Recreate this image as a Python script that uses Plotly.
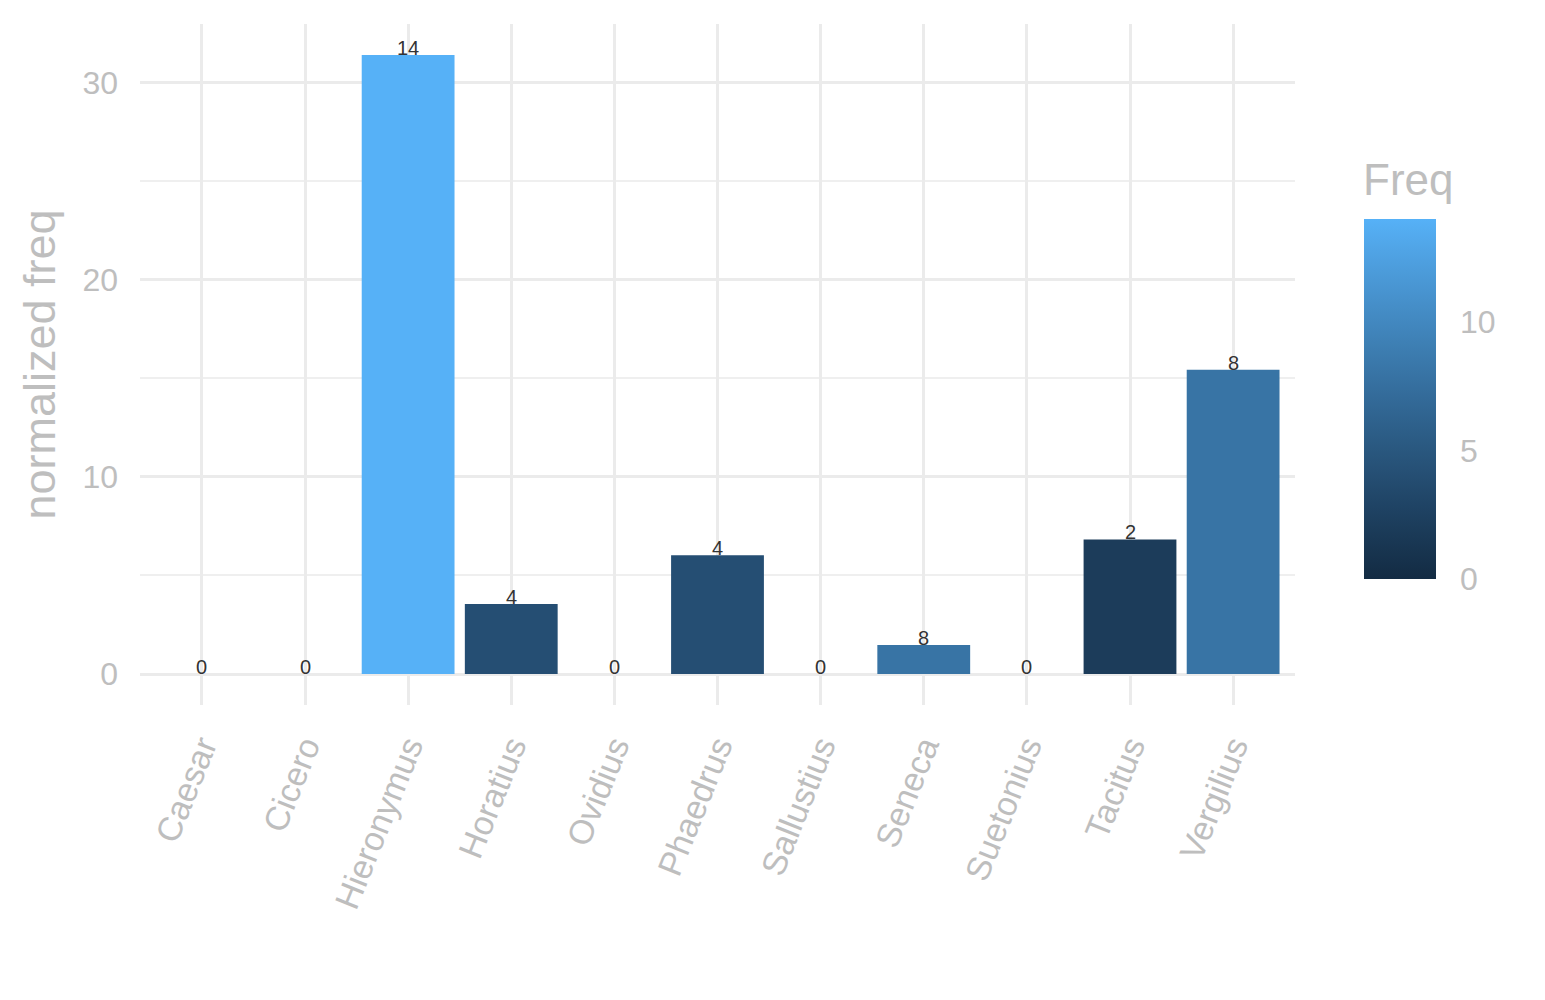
"""Normalized frequency per author, ggplot-like bar chart
"""

# imports
from plotly.graph_objects import Bar, Figure

authors = ["Caesar", "Cicero", "Hieronymus", "Horatius", "Ovidius", "Phaedrus",
           "Sallustius", "Seneca", "Suetonius", "Tacitus", "Vergilius"]
norm_freq = [0, 0, 31.4, 3.55, 0, 6.02, 0, 1.47, 0, 6.83, 15.43]
freq = [0, 0, 14, 4, 0, 4, 0, 8, 0, 2, 8]

LOW = "#132B43"
HIGH = "#56B1F7"
GREY = "#BEBEBE"
FONT = "Liberation Sans, Arial, sans-serif"


def _to_lab(hexcol):
    """hex -> CIE Lab"""
    rgb = [int(hexcol[i:i + 2], 16) / 255 for i in (1, 3, 5)]
    lin = [c / 12.92 if c <= 0.04045 else ((c + 0.055) / 1.055) ** 2.4 for c in rgb]
    r, g, b = lin
    x = (0.4124 * r + 0.3576 * g + 0.1805 * b) / 0.95047
    y = 0.2126 * r + 0.7152 * g + 0.0722 * b
    z = (0.0193 * r + 0.1192 * g + 0.9505 * b) / 1.08883
    f = [t ** (1 / 3) if t > 0.008856 else 7.787 * t + 16 / 116 for t in (x, y, z)]
    return 116 * f[1] - 16, 500 * (f[0] - f[1]), 200 * (f[1] - f[2])


def _from_lab(L, a, b):
    """CIE Lab -> hex"""
    fy = (L + 16) / 116
    fx = fy + a / 500
    fz = fy - b / 200
    inv = [t ** 3 if t ** 3 > 0.008856 else (t - 16 / 116) / 7.787 for t in (fx, fy, fz)]
    x, y, z = inv[0] * 0.95047, inv[1], inv[2] * 1.08883
    r = 3.2406 * x - 1.5372 * y - 0.4986 * z
    g = -0.9689 * x + 1.8758 * y + 0.0415 * z
    bb = 0.0557 * x - 0.2040 * y + 1.0570 * z
    out = []
    for c in (r, g, bb):
        c = 12.92 * c if c <= 0.0031308 else 1.055 * c ** (1 / 2.4) - 0.055
        out.append(max(0, min(255, round(c * 255))))
    return "#%02X%02X%02X" % tuple(out)


def lab_scale(low, high, n=11):
    """gradient like scale_fill_gradient (Lab interpolation)"""
    l1, l2 = _to_lab(low), _to_lab(high)
    scale = []
    for i in range(n):
        t = i / (n - 1)
        scale.append([t, _from_lab(*[p + (q - p) * t for p, q in zip(l1, l2)])])
    return scale


def main():
    """build and write the figure"""
    colorscale = lab_scale(LOW, HIGH)

    fig = Figure()
    fig.add_trace(Bar(
        x=authors, y=norm_freq, width=0.9,
        marker=dict(
            color=freq, colorscale=colorscale, cmin=0, cmax=14, line_width=0,
            colorbar=dict(
                thickness=72, len=0.5286, lenmode="fraction",
                x=1.0597, xanchor="left", xpad=0,
                y=0.4493, yanchor="middle", ypad=0,
                outlinewidth=0, tickvals=[0, 5, 10],
                ticks="outside", ticklen=18, tickcolor="white", tickwidth=1,
                tickfont=dict(size=32, color=GREY, family=FONT),
            ),
        ),
        hoverinfo="x+y",
        showlegend=False,
    ))

    # count labels sitting on top of each bar
    for a, v, f in zip(authors, norm_freq, freq):
        fig.add_annotation(
            x=a, y=v, text=str(f), showarrow=False,
            yanchor="bottom", yshift=-6,
            font=dict(size=20, color="#333333", family=FONT),
        )

    fig.add_annotation(
        text="Freq", xref="paper", yref="paper", x=1.057, y=0.771,
        xanchor="left", yanchor="middle", showarrow=False,
        font=dict(size=44, color=GREY, family=FONT),
    )

    # the page body adds an 8px offset, margins compensate for it
    fig.update_layout(
        width=1545, height=1000,
        margin=dict(l=132, r=258, t=16, b=303, autoexpand=False),
        plot_bgcolor="white", paper_bgcolor="white",
        font=dict(family=FONT, color=GREY),
        bargap=0.1,
        xaxis=dict(
            range=[-0.6, 10.6], showgrid=True, gridcolor="#EBEBEB", gridwidth=3,
            tickangle=-68, tickfont=dict(size=34, color=GREY, family=FONT),
            ticks="", showline=False, zeroline=False, ticklabelstandoff=14,
        ),
        yaxis=dict(
            range=[-1.57, 32.97], tickvals=[0, 10, 20, 30],
            showgrid=True, gridcolor="#EBEBEB", gridwidth=3, zeroline=False,
            minor=dict(tickvals=[5, 15, 25], showgrid=True,
                       gridcolor="#EFEFEF", gridwidth=2),
            tickfont=dict(size=32, color=GREY, family=FONT),
            title=dict(text="normalized freq", standoff=12,
                       font=dict(size=45, color=GREY, family=FONT)),
            ticklabelstandoff=21,
        ),
    )
    fig.write_html("out.html")


if __name__ == "__main__":
    main()
